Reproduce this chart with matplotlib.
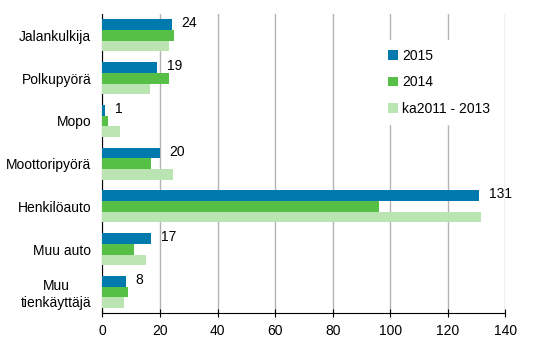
import matplotlib.pyplot as plt
import numpy as np

# --- data ------------------------------------------------------------------
categories = ["Jalankulkija", "Polkupyörä", "Mopo", "Moottoripyörä",
              "Henkilöauto", "Muu auto", "Muu\ntienkäyttäjä"]
series_labels = ["2015", "2014", "ka2011 - 2013"]
v2015 = [24, 19, 1, 20, 131, 17, 8]
v2014 = [25, 23, 2, 17, 96, 11, 9]
vavg = [23, 16.5, 6, 24.5, 131.7, 15, 7.4]
xticks = [0, 20, 40, 60, 80, 100, 120, 140]

COLORS = ["#0079ad", "#55bf46", "#bae5b2"]

plt.rcParams["font.family"] = ["Liberation Sans", "DejaVu Sans"]
plt.rcParams["font.size"] = 10

fig = plt.figure(figsize=(5.46, 3.60), dpi=100)
ax = fig.add_axes([0.1877, 0.1297, 0.9255 - 0.1877, 0.961 - 0.1297])

y = np.arange(len(categories))
h = 0.25
for k, (vals, lab, col) in enumerate(zip([v2015, v2014, vavg], series_labels, COLORS)):
    ax.barh(y - h + k * h, vals, height=h, color=col, label=lab, zorder=3)

# value labels only for the latest year
for yi, v in zip(y, v2015):
    ax.text(v + 3.3, yi - h - 0.03, f"{v}", va="center", ha="left", fontsize=10)

ax.set_ylim(len(categories) - 0.5, -0.5)
ax.set_xlim(0, 140)
ax.set_yticks(y)
ax.set_yticklabels(categories, multialignment="center")
ax.set_xticks(xticks)

for side in ("top", "right"):
    ax.spines[side].set_visible(False)
ax.spines["left"].set_color("black")
ax.spines["bottom"].set_color("black")
ax.tick_params(axis="y", length=0, pad=8)
ax.tick_params(axis="x", direction="inout", length=6, pad=5)

ax.grid(True, axis="x", color="#b3b3b3", linewidth=1, zorder=0)
ax.set_axisbelow(True)

leg = ax.legend(loc="upper left", bbox_to_anchor=(0.672, 0.935), frameon=True,
                fancybox=False, edgecolor="white", framealpha=1,
                handlelength=0.7, handleheight=0.7, handletextpad=0.3,
                labelspacing=0.9, borderpad=0.6, fontsize=10)

fig.savefig("out.png", dpi=100)
